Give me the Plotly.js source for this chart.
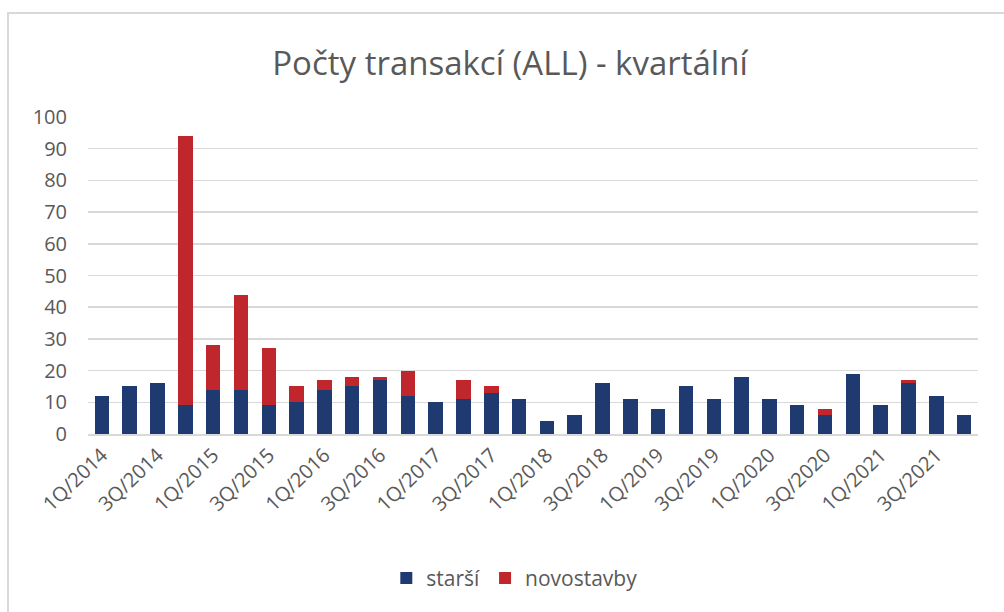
<!DOCTYPE html>
<html>
<head>
<meta charset="utf-8">
<script src="https://cdn.plot.ly/plotly-3.0.1.min.js"></script>
<style>
html,body{margin:0;padding:0;background:#fff;}
#wrap{position:relative;width:1004px;height:612px;}
#chart{width:1004px;height:612px;}
.fr{position:absolute;background:#d9d9d9;}
</style>
</head>
<body>
<div id="wrap">
<div id="chart"></div>
<div class="fr" style="left:7px;top:12px;width:997px;height:2px;"></div>
<div class="fr" style="left:7px;top:12px;width:2px;height:600px;"></div>
</div>
<script>
const quarters = [
 "1Q/2014","2Q/2014","3Q/2014","4Q/2014",
 "1Q/2015","2Q/2015","3Q/2015","4Q/2015",
 "1Q/2016","2Q/2016","3Q/2016","4Q/2016",
 "1Q/2017","2Q/2017","3Q/2017","4Q/2017",
 "1Q/2018","2Q/2018","3Q/2018","4Q/2018",
 "1Q/2019","2Q/2019","3Q/2019","4Q/2019",
 "1Q/2020","2Q/2020","3Q/2020","4Q/2020",
 "1Q/2021","2Q/2021","3Q/2021","4Q/2021"
];
const starsi = [12,15,16,9, 14,14,9,10, 14,15,17,12, 10,11,13,11, 4,6,16,11, 8,15,11,18, 11,9,6,19, 9,16,12,6];
const novostavby = [0,0,0,85, 14,30,18,5, 3,3,1,8, 0,6,2,0, 0,0,0,0, 0,0,0,0, 0,0,2,0, 0,1,0,0];
const tickLabels = quarters.filter((q,i)=>i%2===0);

const textColor = "#595959";
const fontFam = "Open Sans, Liberation Sans, sans-serif";

const data = [
 {type:"bar", name:"starší", x:quarters, y:starsi, marker:{color:"#1F3A70"}},
 {type:"bar", name:"novostavby", x:quarters, y:novostavby, marker:{color:"#C0272D"}}
];
const layout = {
 width:1004, height:612,
 barmode:"stack", bargap:0.48,
 paper_bgcolor:"rgba(0,0,0,0)", plot_bgcolor:"#fff",
 margin:{l:88, r:26, t:117, b:178},
 font:{family:fontFam, color:textColor, size:19},
 title:{text:"Počty transakcí (ALL) - kvartální", x:0.508, xanchor:"center", y:0.897, yanchor:"middle", yref:"container",
        font:{family:fontFam, size:33, color:textColor}},
 xaxis:{type:"category", tickmode:"array", tickvals:tickLabels, ticktext:tickLabels, tickangle:-44,
        showgrid:false, showline:true, linecolor:"#d9d9d9", linewidth:1.5, ticks:"", ticklen:0,
        tickfont:{size:20, color:textColor, family:fontFam}},
 yaxis:{range:[0,100], tickvals:[0,10,20,30,40,50,60,70,80,90,100], showgrid:true, gridcolor:"#d9d9d9", gridwidth:1.5,
        zeroline:false, showline:false, ticks:"", ticklabelstandoff:20,
        tickfont:{size:20, color:textColor, family:fontFam}},
 legend:{orientation:"h", x:0.479, xanchor:"center", y:-0.455, yanchor:"middle",
        font:{size:21, color:textColor, family:fontFam}, itemwidth:30, traceorder:"normal"},
 showlegend:true
};
Plotly.newPlot("chart", data, layout, {displayModeBar:false, staticPlot:true});
</script>
</body>
</html>
